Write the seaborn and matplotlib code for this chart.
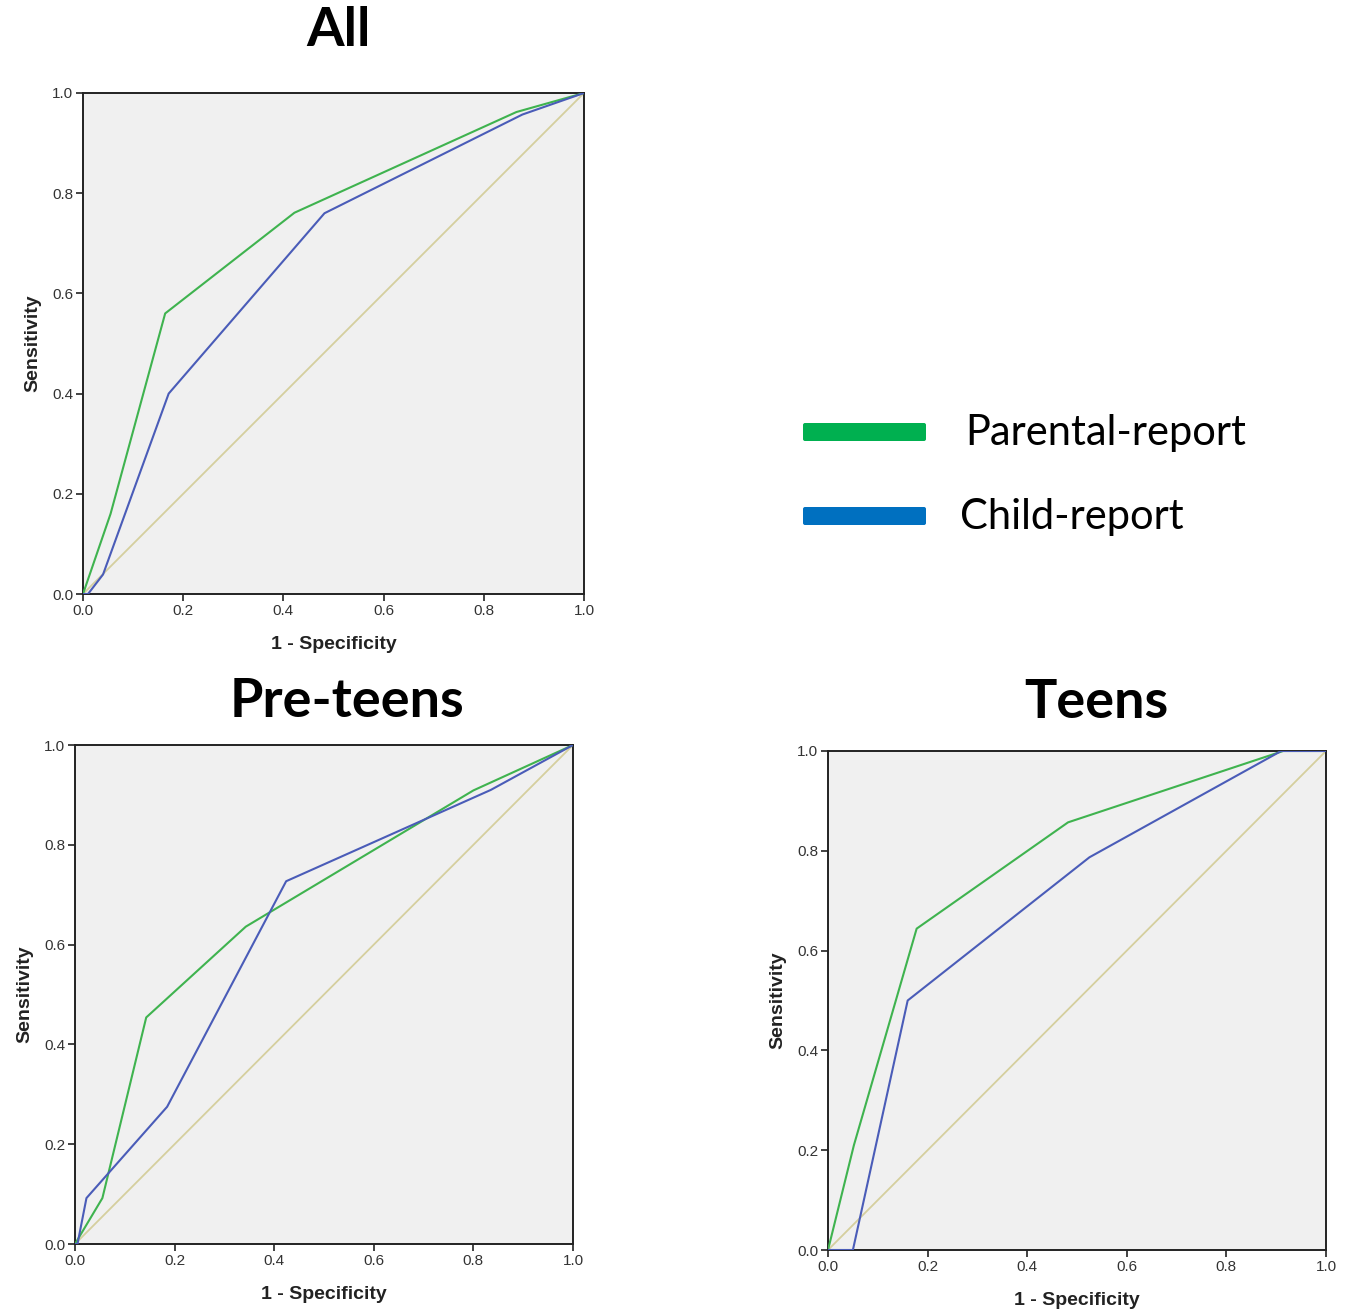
import numpy as np
import pandas as pd
import seaborn as sns
import matplotlib.pyplot as plt
from matplotlib.patches import FancyBboxPatch

# ROC coordinates (1 - specificity, sensitivity)
all_parent_fpr = [0.0, 0.055, 0.164, 0.422, 0.865, 1.0]
all_parent_tpr = [0.0, 0.160, 0.560, 0.761, 0.962, 1.0]
all_child_fpr = [0.0, 0.010, 0.040, 0.171, 0.482, 0.877, 1.0]
all_child_tpr = [0.0, 0.000, 0.039, 0.400, 0.760, 0.957, 1.0]

pre_parent_fpr = [0.0, 0.055, 0.143, 0.343, 0.800, 1.0]
pre_parent_tpr = [0.0, 0.092, 0.454, 0.636, 0.909, 1.0]
pre_child_fpr = [0.0, 0.005, 0.023, 0.185, 0.424, 0.835, 1.0]
pre_child_tpr = [0.0, 0.000, 0.092, 0.275, 0.727, 0.910, 1.0]

teen_parent_fpr = [0.0, 0.052, 0.178, 0.482, 0.914, 1.0]
teen_parent_tpr = [0.0, 0.210, 0.644, 0.857, 1.000, 1.0]
teen_child_fpr = [0.0, 0.050, 0.160, 0.525, 0.910, 1.0]
teen_child_tpr = [0.0, 0.000, 0.500, 0.787, 1.000, 1.0]

panels = ["All", "Pre-teens", "Teens"]
series = ["Parental-report", "Child-report"]

curves = {
    ("All", "Parental-report"): (all_parent_fpr, all_parent_tpr),
    ("All", "Child-report"): (all_child_fpr, all_child_tpr),
    ("Pre-teens", "Parental-report"): (pre_parent_fpr, pre_parent_tpr),
    ("Pre-teens", "Child-report"): (pre_child_fpr, pre_child_tpr),
    ("Teens", "Parental-report"): (teen_parent_fpr, teen_parent_tpr),
    ("Teens", "Child-report"): (teen_child_fpr, teen_child_tpr),
}

rows = []
for (panel, name), (xs, ys) in curves.items():
    for i, (x, y) in enumerate(zip(xs, ys)):
        rows.append({"panel": panel, "series": name, "order": i, "fpr": x, "tpr": y})
df = pd.DataFrame(rows)

line_colors = {"Parental-report": "#3fb34f", "Child-report": "#4a5cb8"}
legend_colors = {"Parental-report": "#00b050", "Child-report": "#0070c0"}

sns.set_style("white")
plt.rcParams["font.family"] = ["Liberation Sans", "DejaVu Sans"]

W, H = 1346, 1316
fig = plt.figure(figsize=(W / 100, H / 100), dpi=100)


def px_axes(left, top, right, bottom):
    return fig.add_axes([left / W, 1 - bottom / H, (right - left) / W, (bottom - top) / H])


# axes boxes in pixels: left, top, right, bottom
boxes = {
    "All": (83, 93, 584, 594),
    "Pre-teens": (75, 745, 573, 1244),
    "Teens": (828, 751, 1326, 1250),
}
# title centre x and baseline y (pixels)
titles = {
    "All": (338, 46),
    "Pre-teens": (347, 717),
    "Teens": (1096, 718),
}

for panel in panels:
    ax = px_axes(*boxes[panel])
    ax.set_facecolor("#f0f0f0")
    ax.plot([0, 1], [0, 1], color="#d5cf9e", lw=1.3, zorder=1)
    sub = df[df["panel"] == panel]
    sns.lineplot(
        data=sub, x="fpr", y="tpr", hue="series", units="series",
        estimator=None, sort=False, palette=line_colors, hue_order=series,
        lw=1.5, ax=ax, legend=False, zorder=3,
    )
    ax.set_xlim(0, 1)
    ax.set_ylim(0, 1)
    ticks = np.arange(0, 1.01, 0.2)
    ax.set_xticks(ticks)
    ax.set_yticks(ticks)
    ax.set_xticklabels([f"{t:.1f}" for t in ticks])
    ax.set_yticklabels([f"{t:.1f}" for t in ticks])
    ax.tick_params(direction="out", length=5, width=1.2, color="#222222",
                   labelsize=11, labelcolor="#333333", pad=2,
                   bottom=True, left=True)
    for s in ax.spines.values():
        s.set_color("#222222")
        s.set_linewidth(1.4)
    ax.set_xlabel("1 - Specificity", fontsize=14, fontweight="bold",
                  color="#222222", labelpad=13)
    ax.set_ylabel("Sensitivity", fontsize=14, fontweight="bold",
                  color="#222222", labelpad=8)
    tx, ty = titles[panel]
    fig.text(tx / W, 1 - ty / H, panel, ha="center", va="baseline",
             fontsize=39, fontweight="bold", color="black",
             family=["Lato", "DejaVu Sans"])

# legend on the right
lax = fig.add_axes([0, 0, 1, 1], facecolor="none")
lax.set_xlim(0, W)
lax.set_ylim(H, 0)
lax.axis("off")
legend_rows = [("Parental-report", 432, 965), ("Child-report", 516, 960)]
for name, yc, tx in legend_rows:
    lax.add_patch(FancyBboxPatch((803, yc - 9), 123, 18,
                                 boxstyle="round,pad=0,rounding_size=2",
                                 fc=legend_colors[name], ec="none"))
    lax.text(tx, yc + 1, name, ha="left", va="center", fontsize=30,
             family=["Lato", "DejaVu Sans"], color="black")

fig.savefig("out.png", dpi=100)
